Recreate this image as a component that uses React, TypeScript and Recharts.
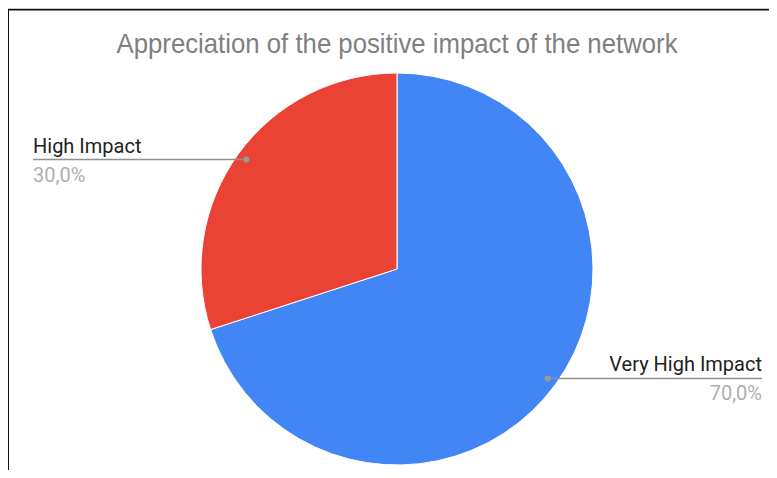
import React from 'react';
import { PieChart, Pie, Cell } from 'recharts';

const categories = ['Very High Impact', 'High Impact'];
const shares = [70, 30];
const percentLabels = ['70,0%', '30,0%'];
const colors = ['#4285F4', '#EA4335'];
const title = 'Appreciation of the positive impact of the network';

const data = categories.map((name, i) => ({ name, value: shares[i], pct: percentLabels[i] }));

const RAD = Math.PI / 180;

// label with a dot inside the slice and a horizontal leader to the edge
const renderLabel = (props: any) => {
    const { cx, cy, midAngle, outerRadius, index } = props;
    const r = outerRadius * 0.95;
    const x = cx + r * Math.cos(-midAngle * RAD);
    const y = cy + r * Math.sin(-midAngle * RAD);
    const right = x > cx;
    const endX = right ? 762 : 33;
    const anchor = right ? 'end' : 'start';
    return (
        <g>
            <line x1={x} y1={y} x2={endX} y2={y} stroke="#8f8f8f" strokeWidth={1.5} />
            <circle cx={x} cy={y} r={3} fill="#9a9a9a" />
            <text x={endX} y={y - 7} textAnchor={anchor} fill="#222" fontSize={20} fontFamily="Roboto">
                {data[index].name}
            </text>
            <text x={endX} y={y + 22} textAnchor={anchor} fill="#b0b0b0" fontSize={20} fontFamily="Roboto">
                {data[index].pct}
            </text>
        </g>
    );
};

export default function App() {
    return (
        <div style={{ position: 'relative', width: 777, height: 478, margin: -8, overflow: 'hidden', background: '#fff' }}>
            <div style={{ position: 'absolute', left: 0, top: 0 }}>
                <PieChart width={777} height={478} margin={{ top: 0, right: 0, bottom: 0, left: 0 }}>
                    <Pie
                        data={data}
                        dataKey="value"
                        nameKey="name"
                        cx={397}
                        cy={269}
                        outerRadius={196}
                        startAngle={90}
                        endAngle={-270}
                        stroke="#fff"
                        strokeWidth={1}
                        label={renderLabel}
                        labelLine={false}
                        isAnimationActive={false}
                    >
                        {data.map((d, i) => (
                            <Cell key={d.name} fill={colors[i]} />
                        ))}
                    </Pie>
                </PieChart>
            </div>
            <svg width={777} height={478} style={{ position: 'absolute', left: 0, top: 0 }}>
                <text
                    x={397}
                    y={53}
                    textAnchor="middle"
                    textLength={561}
                    lengthAdjust="spacingAndGlyphs"
                    fontSize={28}
                    fontFamily="Liberation Sans, Arial, sans-serif"
                    fill="#808080"
                >
                    {title}
                </text>
                <rect x={7} y={8} width={770} height={1} fill="#c8c8c8" />
                <rect x={7} y={9} width={770} height={1.5} fill="#111" />
                <rect x={7} y={9} width={2} height={469} fill="#111" />
            </svg>
        </div>
    );
}
